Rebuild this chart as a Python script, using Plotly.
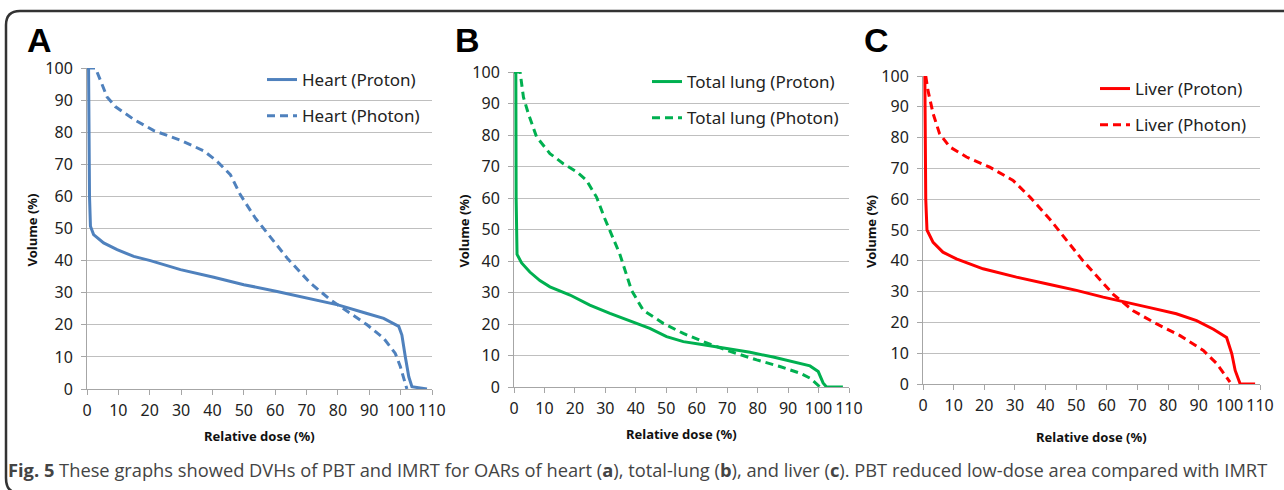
import plotly.graph_objects as go

W, H = 1284, 490

# ---------------- DATA ----------------
heart_proton_x = [0, 0.5, 0.8, 1.1, 2.1, 5.3, 9.6, 14.9, 20.2, 29.8, 40.4, 50, 60.6, 70, 80, 89, 94.6, 99.4, 100.4, 101.5, 102.6, 103.6, 108.4]
heart_proton_y = [100, 100, 60, 50.7, 48.1, 45.5, 43.4, 41.3, 40, 37.2, 34.8, 32.5, 30.4, 28.3, 26.2, 23.6, 22, 19.5, 16.8, 10, 3.8, 0.7, 0]
heart_photon_x = [0, 2.7, 6.4, 9, 14.9, 21.3, 29.8, 37.2, 41.4, 45.7, 48.9, 53.7, 63.8, 71.2, 77.6, 82.9, 89.3, 94.6, 98.3, 99.9, 101.5, 102]
heart_photon_y = [100, 100, 91, 88, 84, 80.5, 77.5, 74.2, 71, 66.8, 60.5, 53.2, 40.8, 33, 27.8, 24.2, 20, 15.8, 11.1, 7, 1.8, 0]

lung_proton_x = [0, 0.6, 0.7, 1.0, 2.5, 5.2, 8.5, 11.8, 18.4, 24.9, 31.5, 39.2, 44.6, 50.1, 55.6, 62.2, 69.8, 77.5, 85.1, 92.8, 97.2, 99.9, 101.5, 102.6, 108]
lung_proton_y = [100, 100, 60, 42.1, 39.4, 36.5, 33.8, 31.8, 29.2, 26, 23.4, 20.7, 18.6, 16, 14.4, 13.4, 12.3, 11, 9.5, 7.8, 6.7, 4.9, 1.3, 0, 0]
lung_photon_x = [0, 2, 3.1, 4.7, 7.4, 11.8, 16.2, 20.6, 23.8, 27.1, 29.8, 34.7, 38.6, 42.4, 49, 55.6, 62.2, 70.9, 79.7, 87.3, 93.9, 97.2, 100.5]
lung_photon_y = [100, 100, 92, 86.8, 79.4, 74.1, 70.9, 68.3, 65.6, 60.3, 53.5, 42.3, 30.7, 24.4, 20.2, 17, 14.4, 11.3, 8.6, 6.5, 4.4, 2.8, 0]

liver_proton_x = [0.6, 0.9, 1.3, 3.3, 6.5, 10.9, 19.6, 30.5, 41.4, 50.1, 58.8, 66.4, 74, 82.7, 89.3, 94.8, 99.1, 100.8, 101.9, 103.5, 108.4]
liver_proton_y = [100, 60, 50, 46, 42.8, 40.6, 37.4, 34.7, 32.3, 30.4, 28.2, 26.6, 24.8, 22.8, 20.6, 17.8, 15.1, 9.8, 4.4, 0.1, 0]
liver_photon_x = [0.9, 1.6, 3.3, 5.4, 8.7, 14.2, 21.8, 29.4, 34.9, 41.4, 52.3, 62.1, 68.6, 76.3, 83.9, 91.5, 95.9, 100.2]
liver_photon_y = [100, 95.4, 87.8, 81.3, 77, 73.7, 70.4, 66.1, 60.7, 53.5, 39.9, 29.1, 23.8, 19.5, 15.7, 10.9, 6.6, 0.6]

x_ticks = [0, 10, 20, 30, 40, 50, 60, 70, 80, 90, 100, 110]
y_ticks = [0, 10, 20, 30, 40, 50, 60, 70, 80, 90, 100]

panels = [
    dict(letter="A", color="#4F81BD", names=["Heart (Proton)", "Heart (Photon)"],
         data=[(heart_proton_x, heart_proton_y), (heart_photon_x, heart_photon_y)],
         box=(87, 432, 68, 389), leg=(262, 62), ytitle_x=31, xtitle=(259, 436), letter_xy=(39, 40)),
    dict(letter="B", color="#00B050", names=["Total lung (Proton)", "Total lung (Photon)"],
         data=[(lung_proton_x, lung_proton_y), (lung_photon_x, lung_photon_y)],
         box=(514, 849, 72, 387), leg=(647, 64), ytitle_x=463, xtitle=(681, 434), letter_xy=(467, 40)),
    dict(letter="C", color="#FF0000", names=["Liver (Proton)", "Liver (Photon)"],
         data=[(liver_proton_x, liver_proton_y), (liver_photon_x, liver_photon_y)],
         box=(923, 1260, 76, 384), leg=(1095, 71), ytitle_x=871, xtitle=(1091, 437), letter_xy=(876, 40)),
]

TICKFONT = dict(family="Noto Sans, Open Sans, sans-serif", size=16, color="#222222")
TITLEFONT = dict(family="Noto Sans, sans-serif", size=13, color="#111111")

def px(x):
    return x / W

def py(y):
    return 1 - y / H

fig = go.Figure()
annotations = []
layout_axes = {}

for i, p in enumerate(panels):
    n = "" if i == 0 else str(i + 1)
    xa, ya = "x" + n, "y" + n
    legname = "legend" + n
    x0, x1, y0, y1 = p["box"]
    for j, (xs, ys) in enumerate(p["data"]):
        fig.add_trace(go.Scatter(
            x=xs, y=ys, mode="lines", name=p["names"][j],
            line=dict(color=p["color"], width=3, dash="solid" if j == 0 else "8px,5px"),
            xaxis=xa, yaxis=ya, legend=legname, legendgroup=f"g{i}{j}",
        ))
    layout_axes["xaxis" + n] = dict(
        domain=[px(x0), px(x1)], range=[0, 110], tickvals=x_ticks, anchor=ya,
        showgrid=False, showline=True, linecolor="#A6A6A6", linewidth=1,
        ticks="outside", ticklen=5, tickcolor="#A6A6A6", tickfont=TICKFONT,
        ticklabelstandoff=2, zeroline=False, fixedrange=True)
    layout_axes["yaxis" + n] = dict(
        domain=[py(y1), py(y0)], range=[0, 100], tickvals=y_ticks, anchor=xa,
        showgrid=True, gridcolor="#BFBFBF", gridwidth=1,
        showline=True, linecolor="#A6A6A6", linewidth=1,
        ticks="outside", ticklen=5, tickcolor="#A6A6A6", tickfont=TICKFONT,
        ticklabelstandoff=5, zeroline=False, fixedrange=True)
    layout_axes[legname] = dict(
        x=px(p["leg"][0]), y=py(p["leg"][1]), xanchor="left", yanchor="top",
        bgcolor="rgba(0,0,0,0)", borderwidth=0, traceorder="grouped", tracegroupgap=11,
        font=dict(family="Noto Sans, Open Sans, sans-serif", size=17, color="#222222"),
        itemwidth=30)
    annotations.append(dict(text="<b>" + p["letter"] + "</b>", x=px(p["letter_xy"][0]), y=py(p["letter_xy"][1]),
                            xref="paper", yref="paper", showarrow=False, xanchor="center", yanchor="middle",
                            font=dict(family="Liberation Sans, Arial, sans-serif", size=34, color="#000000")))
    annotations.append(dict(text="<b>Volume (%)</b>", x=px(p["ytitle_x"]), y=py((y0 + y1) / 2 + 2),
                            xref="paper", yref="paper", showarrow=False, textangle=-90,
                            xanchor="center", yanchor="middle", font=TITLEFONT))
    annotations.append(dict(text="<b>Relative dose (%)</b>", x=px(p["xtitle"][0]), y=py(p["xtitle"][1]),
                            xref="paper", yref="paper", showarrow=False,
                            xanchor="center", yanchor="middle", font=TITLEFONT))

caption = ("<b>Fig. 5</b> These graphs showed DVHs of PBT and IMRT for OARs of heart (<b>a</b>), "
           "total-lung (<b>b</b>), and liver (<b>c</b>). PBT reduced low-dose area compared with IMRT")
annotations.append(dict(text=caption, x=px(6), y=py(469), xref="paper", yref="paper", showarrow=False,
                        xanchor="left", yanchor="middle",
                        font=dict(family="Open Sans, sans-serif", size=18.3, color="#444444")))

# rounded frame
frame = (f"M {px(1290)},{py(11)} L {px(20)},{py(11)} Q {px(6)},{py(11)} {px(6)},{py(25)} "
         f"L {px(6)},{py(478)} Q {px(6)},{py(490)} {px(14)},{py(492)}")

fig.update_layout(
    width=W, height=H, margin=dict(l=0, r=0, t=0, b=0, autoexpand=False),
    paper_bgcolor="white", plot_bgcolor="white",
    annotations=annotations,
    shapes=[dict(type="path", path=frame, xref="paper", yref="paper",
                 line=dict(color="#333333", width=2.5))],
    **layout_axes,
)

fig.write_html("out.html", config={"displayModeBar": False},
               post_script="document.body.style.margin='0px';document.body.style.overflow='hidden';")
